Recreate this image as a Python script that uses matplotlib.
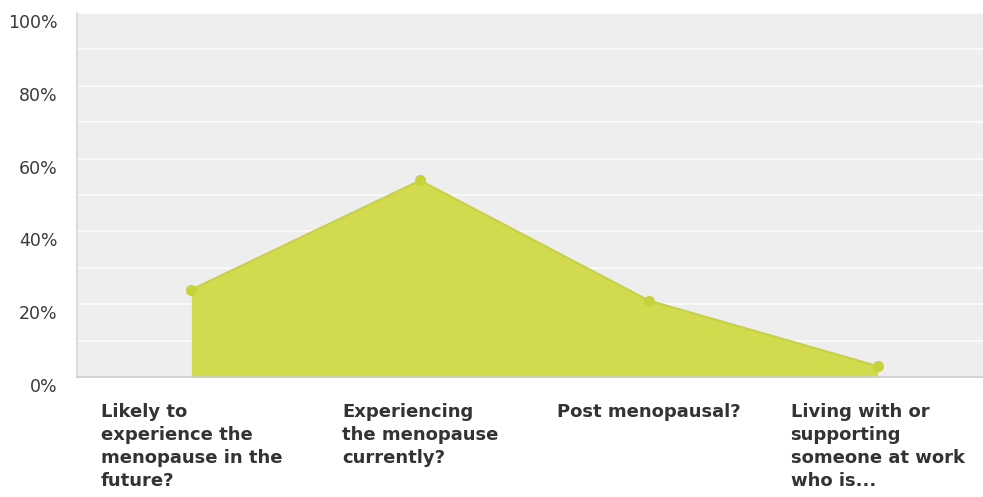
import matplotlib
matplotlib.use("Agg")
import matplotlib.pyplot as plt
import matplotlib.transforms as mtransforms
from matplotlib.ticker import FuncFormatter, MultipleLocator

# Survey responses (share of respondents, %)
categories = [
    "Likely to\nexperience the\nmenopause in the\nfuture?",
    "Experiencing\nthe menopause\ncurrently?",
    "Post menopausal?",
    "Living with or\nsupporting\nsomeone at work\nwho is...",
]
values = [24, 54, 21, 3]
y_ticks = [0, 20, 40, 60, 80, 100]

fill_color = "#d2da4e"
edge_color = "#c8d23a"

fig = plt.figure(figsize=(9.83, 4.97), dpi=100)
ax = fig.add_axes([77 / 983, 120 / 497, 915 / 983, 364 / 497])
ax.set_facecolor("#eeeeee")

x = list(range(len(values)))
ax.fill_between(x, values, 0, color=fill_color, linewidth=0, zorder=2)
ax.plot(x, values, color=edge_color, linewidth=1.5, marker="o",
        markersize=8, markerfacecolor=edge_color, markeredgewidth=0, zorder=3,
        clip_on=False)

ax.set_xlim(-0.5, len(values) - 0.5)
ax.set_ylim(0, 100)

# horizontal grid every 10%
ax.yaxis.set_minor_locator(MultipleLocator(10))
ax.set_yticks(y_ticks)
ax.yaxis.set_major_formatter(FuncFormatter(lambda v, p: f"{int(v)}%"))
ax.grid(True, which="both", axis="y", color="#fbfbfb", linewidth=1.3, zorder=1)
ax.set_axisbelow(True)
ax.tick_params(axis="y", which="both", length=0, pad=14, labelsize=12.5,
               labelcolor="#3a3a3a")
ax.tick_params(axis="x", length=0, labelbottom=False)

# y labels sit slightly below their grid lines
offset = mtransforms.ScaledTranslation(0, -8 / 100, fig.dpi_scale_trans)
for lbl in ax.get_yticklabels():
    lbl.set_transform(lbl.get_transform() + offset)

for side in ("top", "right"):
    ax.spines[side].set_visible(False)
ax.spines["left"].set_color("#d8d8d8")
ax.spines["left"].set_linewidth(1.2)
ax.spines["bottom"].set_color("#cccccc")
ax.spines["bottom"].set_linewidth(1.2)

# category labels under the axis, block centred, lines left aligned
label_trans = mtransforms.blended_transform_factory(ax.transData, ax.transAxes)
for xi, text in zip(x, categories):
    ax.text(xi, -0.072, text, transform=label_trans, ha="center", va="top",
            multialignment="left", fontsize=13, fontweight="bold",
            color="#333333", linespacing=1.35, clip_on=False)

fig.savefig("out.png", dpi=100, facecolor="white")
